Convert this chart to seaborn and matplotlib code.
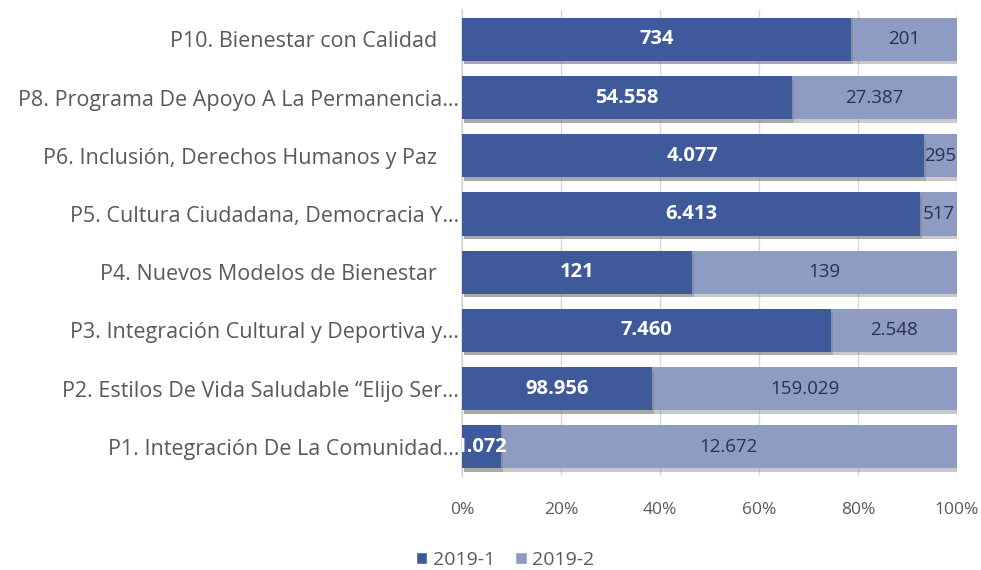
import matplotlib
matplotlib.use("Agg")
import matplotlib.pyplot as plt
import matplotlib.patheffects as pe
from matplotlib.patches import Patch
import numpy as np
import pandas as pd
import seaborn as sns

programs = [
    "P10. Bienestar con Calidad    ",
    "P8. Programa De Apoyo A La Permanencia…",
    "P6. Inclusión, Derechos Humanos y Paz    ",
    "P5. Cultura Ciudadana, Democracia Y…",
    "P4. Nuevos Modelos de Bienestar    ",
    "P3. Integración Cultural y Deportiva y…",
    "P2. Estilos De Vida Saludable “Elijo Ser…",
    "P1. Integración De La Comunidad…",
]
period_1 = [734, 54558, 4077, 6413, 121, 7460, 98956, 1072]
period_2 = [201, 27387, 295, 517, 139, 2548, 159029, 12672]
series_names = ["2019-1", "2019-2"]
tick_values = [0, 20, 40, 60, 80, 100]

dark = "#3F5A9A"
light = "#8E9CC4"
grey_text = "#595959"

sns.set_theme(style="white")
plt.rcParams["font.family"] = ["Open Sans", "DejaVu Sans"]

p1 = np.array(period_1, dtype=float)
p2 = np.array(period_2, dtype=float)
total = p1 + p2
df = pd.DataFrame({
    "program": programs,
    "share_1": p1 / total * 100,
    "cum": np.full(len(programs), 100.0),
})

fig = plt.figure(figsize=(9.81, 5.70), dpi=100)
ax = fig.add_axes([0.471, 0.165, 0.5045, 0.817])

shadow = [pe.SimplePatchShadow(offset=(1.5, -2.5), shadow_rgbFace="#7a7a7a", alpha=0.4), pe.Normal()]

sns.barplot(data=df, x="cum", y="program", orient="h", color=light,
            saturation=1, width=0.74, ax=ax, zorder=3)
sns.barplot(data=df, x="share_1", y="program", orient="h", color=dark,
            saturation=1, width=0.74, ax=ax, zorder=4)
for patch in ax.patches:
    patch.set_path_effects(shadow)
    patch.set_edgecolor("none")

def fmt(v):
    return f"{int(v):,}".replace(",", ".")

for i in range(len(programs)):
    s1 = df["share_1"].iloc[i]
    ax.text(s1 / 2, i, fmt(p1[i]), ha="center", va="center", color="white",
            fontsize=14.5, fontweight="bold", zorder=6, clip_on=True)
    ax.text(s1 + (100 - s1) / 2, i, fmt(p2[i]), ha="center", va="center",
            color="#27324F", fontsize=13.5, zorder=6, clip_on=True)

ax.set_xlim(0, 100)
ax.set_ylim(len(programs) - 0.5, -0.5)
ax.set_xticks(tick_values)
ax.set_xticklabels([f"{t}%" for t in tick_values])
ax.xaxis.grid(True, color="#D9D9D9", linewidth=1, zorder=0)
ax.set_axisbelow(True)
ax.set_xlabel("")
ax.set_ylabel("")
for side in ["top", "right", "bottom"]:
    ax.spines[side].set_visible(False)
ax.spines["left"].set_color("#D9D9D9")
ax.tick_params(axis="x", colors=grey_text, labelsize=12.5, length=0, pad=19)
ax.tick_params(axis="y", colors=grey_text, labelsize=15.5, length=0, pad=2)

handles = [Patch(facecolor=dark, label=series_names[0]),
           Patch(facecolor=light, label=series_names[1])]
fig.legend(handles=handles, loc="center", bbox_to_anchor=(0.515, 0.018),
           ncol=2, frameon=False, fontsize=14, handlelength=0.6,
           handleheight=0.6, handletextpad=0.3, columnspacing=1.0,
           labelcolor=grey_text)

fig.savefig("out.png", dpi=100, facecolor="white")
